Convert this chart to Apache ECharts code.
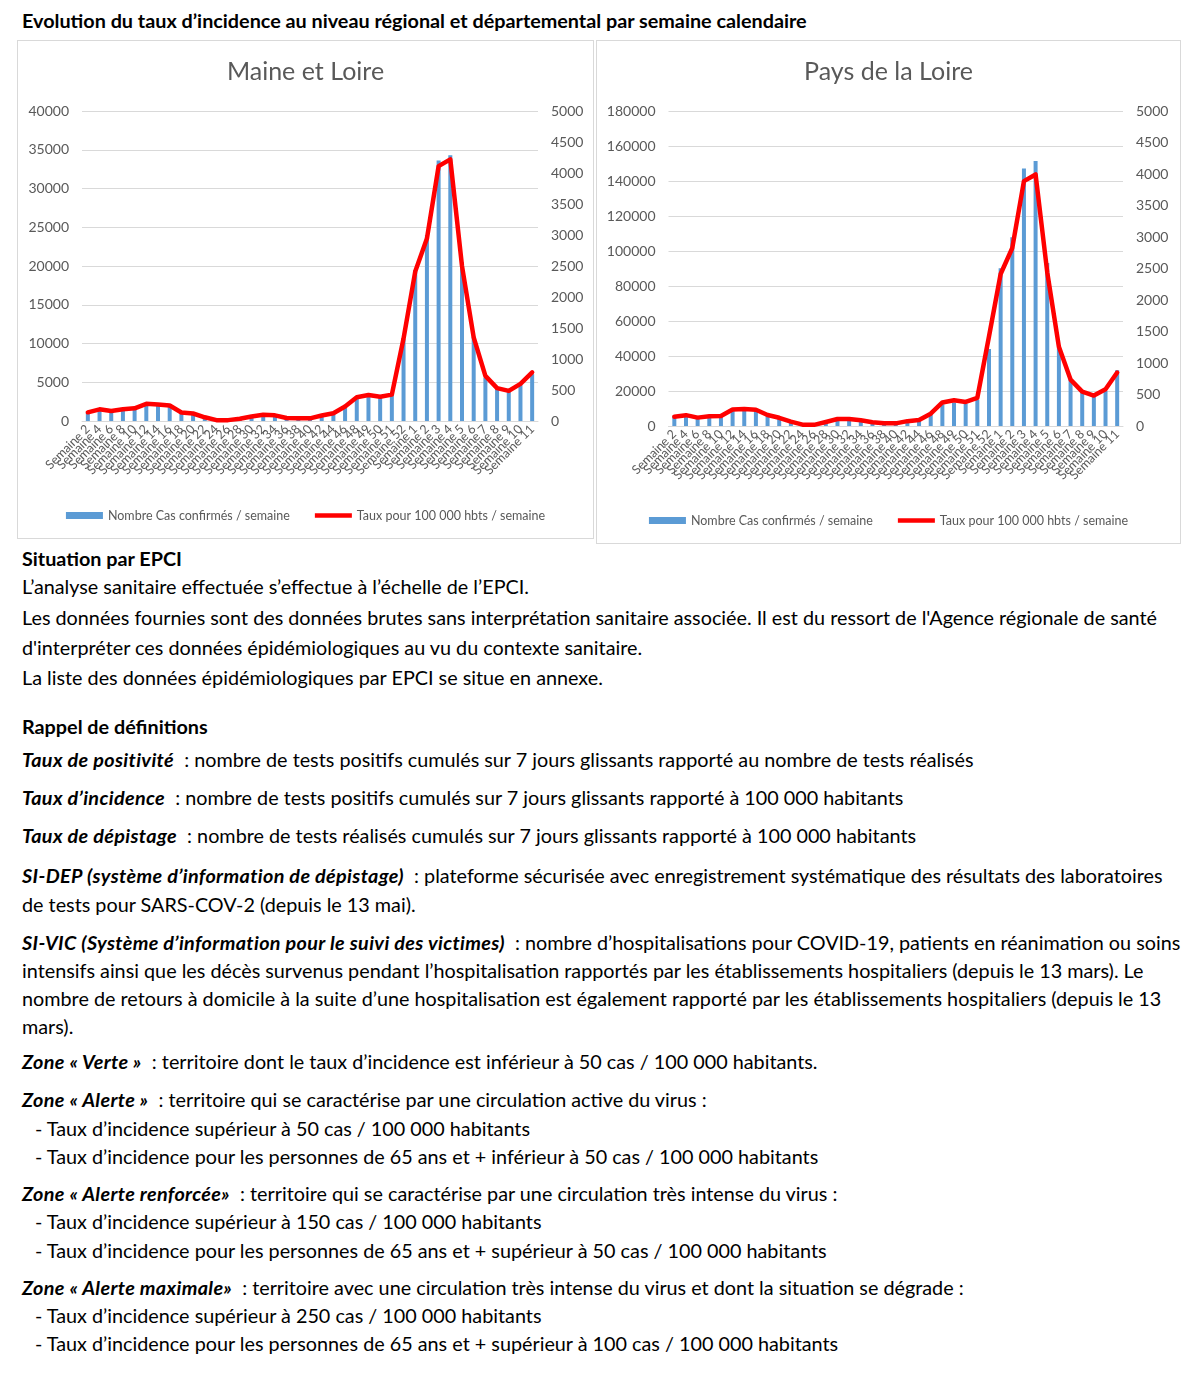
<!DOCTYPE html>
<html><head><meta charset="utf-8">
<script src="https://cdn.jsdelivr.net/npm/echarts/dist/echarts.min.js"></script>
<style>
html,body{margin:0;padding:0;background:#fff;}
body{width:1200px;height:1379px;position:relative;font-family:Lato,'Open Sans',sans-serif;color:#000;}
.t{position:absolute;left:22px;white-space:nowrap;font-size:19.8px;line-height:24px;}
.b{font-weight:bold}
.bi{font-weight:bold;font-style:italic;letter-spacing:0.35px}
.ind{left:35px}
.box{position:absolute;border:1px solid #d9d9d9;box-sizing:border-box;}
.chart{position:absolute;left:0;top:0;width:100%;height:100%;}
</style></head>
<body>
<div class="t b" style="top:8px;">Evolution du taux d’incidence au niveau régional et départemental par semaine calendaire</div>
<div class="box" style="left:17px;top:40px;width:577px;height:499px;"><div id="c1" class="chart"></div></div>
<div class="box" style="left:596px;top:40px;width:585px;height:504px;"><div id="c2" class="chart"></div></div>

<div class="t b" style="top:546px;">Situation par EPCI</div>
<div class="t" style="top:574px;">L’analyse sanitaire effectuée s’effectue à l’échelle de l’EPCI.</div>
<div class="t" style="top:605px;">Les données fournies sont des données brutes sans interprétation sanitaire associée. Il est du ressort de l'Agence régionale de santé</div>
<div class="t" style="top:635px;">d'interpréter ces données épidémiologiques au vu du contexte sanitaire.</div>
<div class="t" style="top:665px;">La liste des données épidémiologiques par EPCI se situe en annexe.</div>

<div class="t b" style="top:714px;">Rappel de définitions</div>
<div class="t" style="top:747px;"><span class="bi">Taux de positivité</span>&nbsp; : nombre de tests positifs cumulés sur 7 jours glissants rapporté au nombre de tests réalisés</div>
<div class="t" style="top:785px;"><span class="bi">Taux d’incidence</span>&nbsp; : nombre de tests positifs cumulés sur 7 jours glissants rapporté à 100 000 habitants</div>
<div class="t" style="top:823px;"><span class="bi">Taux de dépistage</span>&nbsp; : nombre de tests réalisés cumulés sur 7 jours glissants rapporté à 100 000 habitants</div>
<div class="t" style="top:863px;"><span class="bi">SI-DEP (système d’information de dépistage)</span>&nbsp; : plateforme sécurisée avec enregistrement systématique des résultats des laboratoires</div>
<div class="t" style="top:892px;">de tests pour SARS-COV-2 (depuis le 13 mai).</div>
<div class="t" style="top:930px;"><span class="bi">SI-VIC (Système d’information pour le suivi des victimes)</span>&nbsp; : nombre d’hospitalisations pour COVID-19, patients en réanimation ou soins</div>
<div class="t" style="top:958px;">intensifs ainsi que les décès survenus pendant l’hospitalisation rapportés par les établissements hospitaliers (depuis le 13 mars). Le</div>
<div class="t" style="top:986px;">nombre de retours à domicile à la suite d’une hospitalisation est également rapporté par les établissements hospitaliers (depuis le 13</div>
<div class="t" style="top:1014px;">mars).</div>
<div class="t" style="top:1049px;"><span class="bi">Zone « Verte »</span>&nbsp; : territoire dont le taux d’incidence est inférieur à 50 cas / 100 000 habitants.</div>
<div class="t" style="top:1087px;"><span class="bi">Zone « Alerte »</span>&nbsp; : territoire qui se caractérise par une circulation active du virus :</div>
<div class="t ind" style="top:1116px;">- Taux d’incidence supérieur à 50 cas / 100 000 habitants</div>
<div class="t ind" style="top:1144px;">- Taux d’incidence pour les personnes de 65 ans et + inférieur à 50 cas / 100 000 habitants</div>
<div class="t" style="top:1181px;"><span class="bi">Zone « Alerte renforcée»</span>&nbsp; : territoire qui se caractérise par une circulation très intense du virus :</div>
<div class="t ind" style="top:1209px;">- Taux d’incidence supérieur à 150 cas / 100 000 habitants</div>
<div class="t ind" style="top:1238px;">- Taux d’incidence pour les personnes de 65 ans et + supérieur à 50 cas / 100 000 habitants</div>
<div class="t" style="top:1275px;"><span class="bi">Zone « Alerte maximale»</span>&nbsp; : territoire avec une circulation très intense du virus et dont la situation se dégrade :</div>
<div class="t ind" style="top:1303px;">- Taux d’incidence supérieur à 250 cas / 100 000 habitants</div>
<div class="t ind" style="top:1331px;">- Taux d’incidence pour les personnes de 65 ans et + supérieur à 100 cas / 100 000 habitants</div>

<script>
const categories = ['Semaine 2','Semaine 4','Semaine 6','Semaine 8','Semaine 10','Semaine 12','Semaine 14','Semaine 16','Semaine 18','Semaine 20','Semaine 22','Semaine 24','Semaine 26','Semaine 28','Semaine 30','Semaine 32','Semaine 34','Semaine 36','Semaine 38','Semaine 40','Semaine 42','Semaine 44','Semaine 46','Semaine 48','Semaine 49','Semaine 50','Semaine 51','Semaine 52','Semaine 1','Semaine 2','Semaine 3','Semaine 4','Semaine 5','Semaine 6','Semaine 7','Semaine 8','Semaine 9','Semaine 10','Semaine 11'];

const mlCases = [1150,1540,1310,1530,1660,2270,2190,2050,1140,1000,520,140,130,310,610,830,740,390,350,350,700,1010,1850,3120,3430,3200,3480,10600,19500,24000,33600,34300,20500,10900,5610,4330,3860,4630,6040];
const mlRate  = [140,188,161,188,204,277,266,250,137,121,60,14,14,35,72,100,91,48,43,43,88,126,234,384,419,392,425,1330,2410,2943,4110,4220,2500,1350,728,530,485,600,785];

const pdlCases = [5600,6600,5000,5900,6100,10000,10200,9800,6900,5200,2800,1000,1000,2600,4300,4300,3600,2600,1900,1900,3200,3700,7800,12400,13400,12800,15100,44000,90100,107900,147200,151400,93200,44900,26700,19100,17200,20000,31900];
const pdlRate  = [148,172,133,154,159,262,268,257,175,130,69,21,18,63,111,111,90,61,42,42,77,95,196,374,410,382,448,1420,2413,2826,3887,3993,2439,1257,737,546,483,583,848];

const mlTitle = 'Maine et Loire';
const pdlTitle = 'Pays de la Loire';
const casesName = 'Nombre Cas confirmés / semaine';
const rateName = 'Taux pour 100 000 hbts / semaine';
const mlLeftAxis = {min: 0, max: 40000, interval: 5000};
const pdlLeftAxis = {min: 0, max: 180000, interval: 20000};
const rateAxis = {min: 0, max: 5000, interval: 500};

const GRAY = '#595959';
const FONT = 'Lato';
const plain = v => String(v);

function build(id, title, cases, rate, leftAxis, grid, legendTop) {
  const chart = echarts.init(document.getElementById(id), null, {renderer: 'canvas'});
  chart.setOption({
    animation: false,
    textStyle: {fontFamily: FONT},
    title: {text: title, left: 'center', top: 13,
      textStyle: {fontSize: 25, fontWeight: 'normal', color: GRAY, fontFamily: FONT}},
    legend: {top: legendTop, left: 'center', itemGap: 25, itemWidth: 37, itemHeight: 7,
      symbolKeepAspect: true,
      textStyle: {fontSize: 12.5, color: GRAY, fontFamily: FONT},
      data: [{name: casesName, icon: 'rect'},
             {name: rateName, icon: 'path://M0,0 L40,0 L40,4.6 L0,4.6 Z', itemStyle: {color: '#ff0000'}}]},
    grid: Object.assign({outerBoundsMode: 'none', containLabel: false}, grid),
    xAxis: {type: 'category', data: categories,
      axisTick: {show: false},
      axisLine: {lineStyle: {color: '#d9d9d9'}},
      axisLabel: {interval: 0, rotate: 45, fontSize: 12.5, color: GRAY, margin: 6, fontFamily: FONT}},
    yAxis: [
      {type: 'value', min: leftAxis.min, max: leftAxis.max, interval: leftAxis.interval,
        axisLabel: {fontSize: 14, color: GRAY, margin: 13, fontFamily: FONT, formatter: plain},
        splitLine: {lineStyle: {color: '#d9d9d9', width: 1}},
        axisLine: {show: false}, axisTick: {show: false}},
      {type: 'value', min: rateAxis.min, max: rateAxis.max, interval: rateAxis.interval,
        axisLabel: {fontSize: 14, color: GRAY, margin: 13, fontFamily: FONT, formatter: plain},
        splitLine: {show: false}, axisLine: {show: false}, axisTick: {show: false}}
    ],
    series: [
      {type: 'bar', name: casesName, data: cases, yAxisIndex: 0, barWidth: 4,
        itemStyle: {color: '#5b9bd5'}},
      {type: 'line', name: rateName, data: rate, yAxisIndex: 1, symbol: 'none', showSymbol: false,
        lineStyle: {color: '#ff0000', width: 4.5, cap: 'round', join: 'round'},
        itemStyle: {color: '#ff0000'}}
    ]
  });
}

build('c1', mlTitle, mlCases, mlRate, mlLeftAxis, {left: 64, right: 55, top: 70, height: 310}, 463);
build('c2', pdlTitle, pdlCases, pdlRate, pdlLeftAxis, {left: 71.5, right: 57, top: 70, height: 315}, 468);
</script>
</body></html>
